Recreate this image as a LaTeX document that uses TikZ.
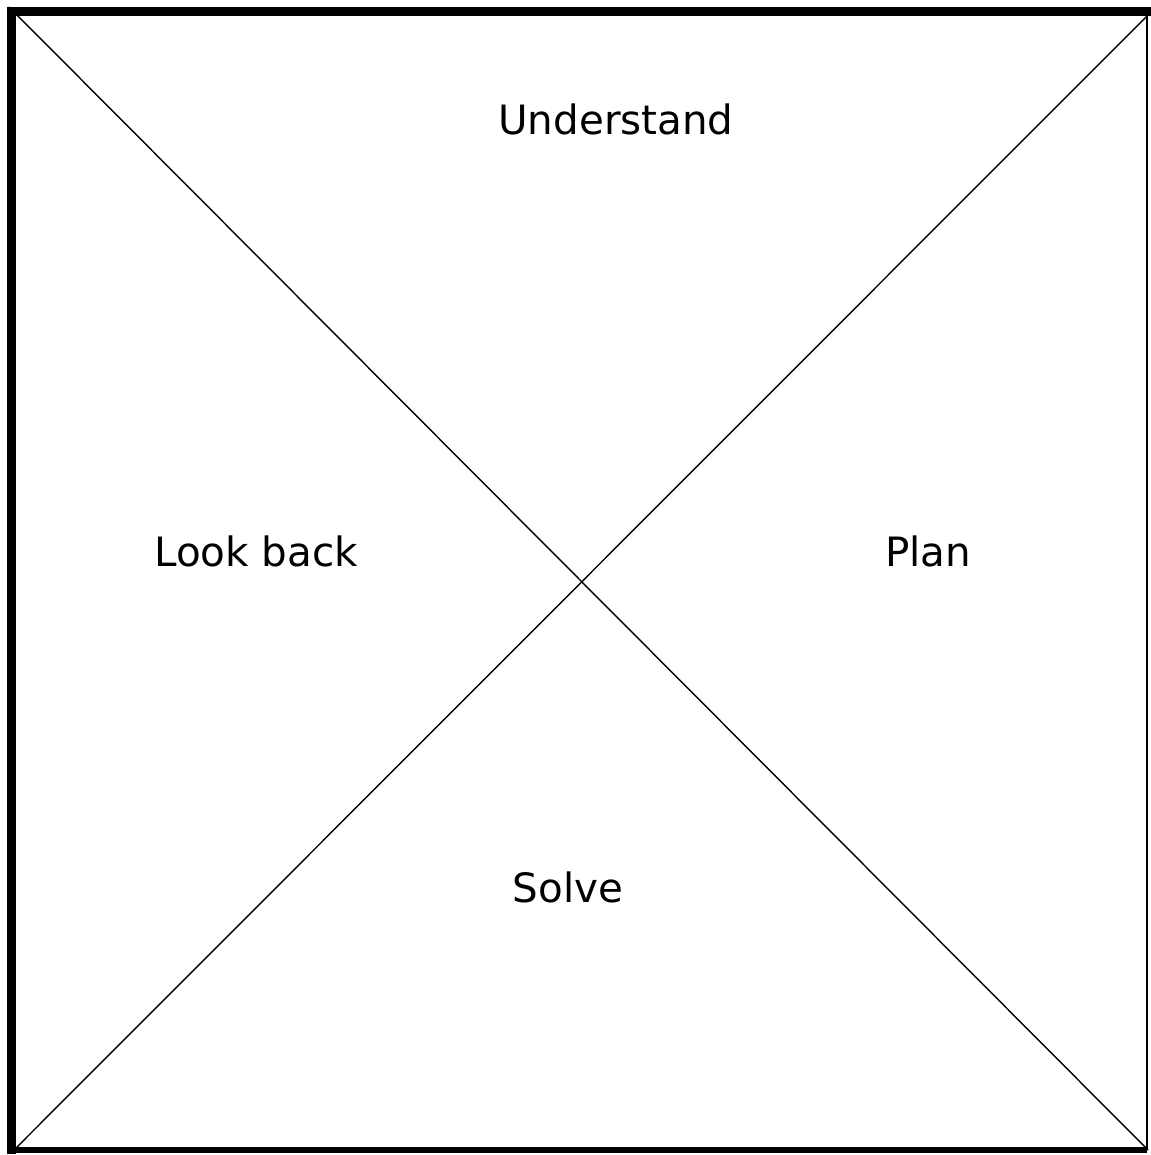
\documentclass[tikz,border=0pt]{standalone}
\usepackage{fontspec}
\setmainfont{DejaVu Sans}
\usetikzlibrary{calc,positioning}
\tikzset{
    phase label/.style={
        inner sep=0pt,
        font=\fontsize{23}{27}\selectfont
    },
    frame thick/.style={line width=5.1pt,line cap=rect},
    frame thin/.style={line width=1.2pt},
    cross line/.style={line width=0.8pt}
}
\begin{document}
\begin{tikzpicture}[x=0.02cm,y=-0.02cm]
\useasboundingbox (0,0) rectangle (1151,1155);
\coordinate (tl) at (11.5,11.5);
\coordinate (tr) at (1147,11.5);
\coordinate (bl) at (11.5,1150);
\coordinate (br) at (1147,1150);
% frame
\draw[frame thin] (tr) -- (br);
\draw[line width=3.4pt] (bl) -- (br);
\draw[frame thick] (bl) -- (tl) -- (tr);
% diagonals
\draw[cross line] (9,7) -- (1148,1150);
\draw[cross line] (1147,16) -- (16,1148);
\node[phase label] (understand) at (616,119) {Understand};
\node[phase label] (lookback) at (256,551) {Look back};
\node[phase label] (plan) at (928,551) {Plan};
\node[phase label] (solve) at (568,887) {Solve};
\end{tikzpicture}
\end{document}
